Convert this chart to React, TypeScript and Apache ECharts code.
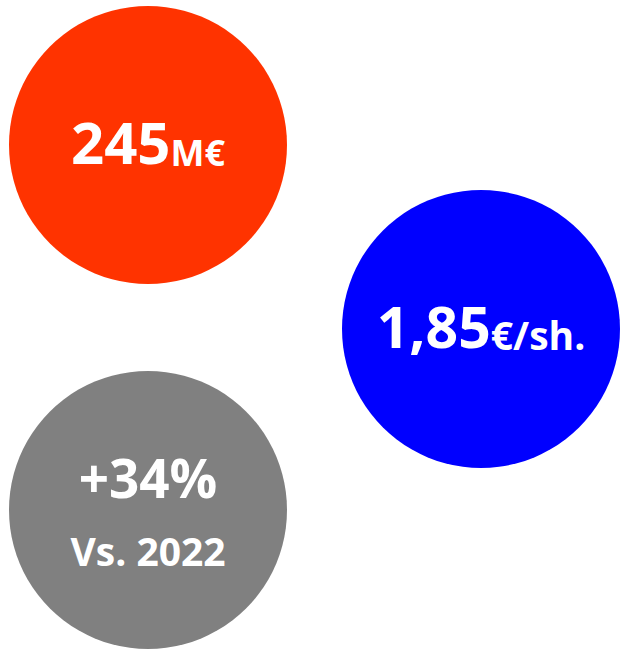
import React, { useEffect, useRef } from "react";
import * as echarts from "echarts";

const kpiMain = ["245", "1,85", "+34%"];
const kpiUnit = ["M€", "€/sh.", ""];
const kpiSub = ["", "", "Vs. 2022"];

const COLORS = ["#FF3300", "#0000FF", "#808080"];
const CENTERS: [number, number][] = [
  [148, 145],
  [481, 329],
  [148, 510],
];
const MAIN_SIZE = [58, 57, 53];
const UNIT_SIZE = [36, 39, 39];
const R = 139;
const FONT = "'Open Sans', sans-serif";

export default function App() {
  const ref = useRef<HTMLDivElement>(null);
  useEffect(() => {
    if (!ref.current) return;
    const chart = echarts.init(ref.current, undefined, { renderer: "svg" });
    const elements: any[] = [];
    kpiMain.forEach((m, i) => {
      const [cx, cy] = CENTERS[i];
      elements.push({
        type: "circle",
        shape: { cx, cy, r: R },
        style: { fill: COLORS[i] },
      });
      let text = `{a|${m}}`;
      if (kpiUnit[i]) text += `{b|${kpiUnit[i]}}`;
      const hasSub = !!kpiSub[i];
      elements.push({
        type: "text",
        x: cx,
        y: hasSub ? cy - 36 : cy - 5,
        style: {
          text,
          align: "center",
          verticalAlign: "middle",
          fill: "#fff",
          fontFamily: FONT,
          fontWeight: "bold",
          rich: {
            a: {
              fontSize: MAIN_SIZE[i],
              fontWeight: "bold",
              fontFamily: FONT,
              fill: "#fff",
              lineHeight: 60,
              verticalAlign: "bottom",
            },
            b: {
              fontSize: UNIT_SIZE[i],
              fontWeight: "bold",
              fontFamily: FONT,
              fill: "#fff",
              lineHeight: 60,
              verticalAlign: "bottom",
            },
          },
        },
      });
      if (hasSub) {
        elements.push({
          type: "text",
          x: cx,
          y: cy + 40,
          style: {
            text: kpiSub[i],
            align: "center",
            verticalAlign: "middle",
            fill: "#fff",
            fontFamily: FONT,
            fontWeight: "bold",
            fontSize: UNIT_SIZE[i],
          },
        });
      }
    });
    chart.setOption({
      animation: false,
      graphic: { elements },
    });
    return () => chart.dispose();
  }, []);
  return (
    <div
      ref={ref}
      style={{ position: "fixed", left: 0, top: 0, width: 620, height: 650, background: "#fff" }}
    />
  );
}
